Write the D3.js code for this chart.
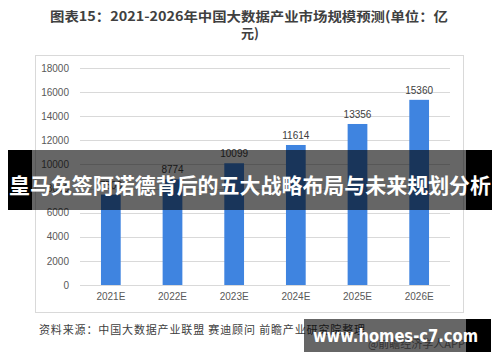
<!DOCTYPE html>
<html><head><meta charset="utf-8">
<script src="https://cdn.jsdelivr.net/npm/d3@7/dist/d3.min.js"></script>
<style>body{margin:0;background:#fff}svg{display:block}</style>
</head><body>
<svg id="c" width="500" height="362"></svg>
<script>
const categories = ["2021E","2022E","2023E","2024E","2025E","2026E"];
const values = [7500, 8774, 10099, 11614, 13356, 15360];
const valueLabels = ["7500","8774","10099","11614","13356","15360"];
const yTicks = [0,2000,4000,6000,8000,10000,12000,14000,16000,18000];
const titleLines = ["图表15：2021-2026年中国大数据产业市场规模预测(单位：亿","元)"];
const sourceText = "资料来源：中国大数据产业联盟 赛迪顾问 前瞻产业研究院整理";
const creditText = "@前瞻经济学人APP";
const bannerText = "皇马免签阿诺德背后的五大战略布局与未来规划分析";
const siteText = "www.homes-c7.com";

const svg = d3.select("#c");
const cjk = "'Noto Sans CJK SC','Noto Sans',sans-serif";
const num = "'Liberation Sans',Arial,sans-serif";

// title
svg.append("text").attr("x",249).attr("y",21).attr("text-anchor","middle")
  .attr("font-family",cjk).attr("font-weight","bold").attr("font-size",13)
  .attr("fill","#404040").attr("textLength",398).attr("lengthAdjust","spacingAndGlyphs")
  .text(titleLines[0]);
svg.append("text").attr("x",250).attr("y",38).attr("text-anchor","middle")
  .attr("font-family",cjk).attr("font-weight","bold").attr("font-size",13)
  .attr("fill","#404040").text(titleLines[1]);

// frame
svg.append("rect").attr("x",35.5).attr("y",55.5).attr("width",428).attr("height",257)
  .attr("fill","#fff").attr("stroke","#d9d9d9");

const x = d3.scaleBand().domain(categories).range([80,450]).paddingInner(0.68).paddingOuter(0.34);
const y = d3.scaleLinear().domain([0,18000]).range([285,68]);

// grid
svg.append("g").selectAll("line").data(yTicks).join("line")
  .attr("x1",80).attr("x2",450).attr("y1",d=>Math.round(y(d))+0.5).attr("y2",d=>Math.round(y(d))+0.5)
  .attr("stroke","#d9d9d9");

// y axis labels
const yAxis = d3.axisLeft(y).tickValues(yTicks).tickSize(0).tickPadding(0).tickFormat(d3.format("d"));
const ga = svg.append("g").attr("transform","translate(69,0)").call(yAxis);
ga.select(".domain").remove();
ga.selectAll("text").attr("font-family",num).attr("font-size",10).attr("fill","#595959");

// x axis labels
const xAxis = d3.axisBottom(x).tickSize(0).tickPadding(0);
const gx = svg.append("g").attr("transform","translate(0,293)").call(xAxis);
gx.select(".domain").remove();
gx.selectAll("text").attr("font-family",num).attr("font-size",10).attr("fill","#595959").attr("dy","0.71em");

// bars
svg.append("g").selectAll("rect").data(values).join("rect")
  .attr("x",(d,i)=>x(categories[i])).attr("width",x.bandwidth())
  .attr("y",d=>y(d)).attr("height",d=>y(0)-y(d)).attr("fill","#3f84e0");

svg.append("g").selectAll("text").data(values).join("text")
  .attr("x",(d,i)=>x(categories[i])+x.bandwidth()/2).attr("y",d=>y(d)-6)
  .attr("text-anchor","middle").attr("font-family",num).attr("font-size",10).attr("fill","#404040")
  .text((d,i)=>valueLabels[i]);

// source
svg.append("text").attr("x",39).attr("y",334).attr("font-family",cjk).attr("font-size",11)
  .attr("fill","#404040").attr("textLength",326).attr("lengthAdjust","spacing").text(sourceText);
svg.append("text").attr("x",465).attr("y",348).attr("text-anchor","end").attr("font-family",cjk).attr("font-size",11)
  .attr("fill","#808080").text(creditText);

// banner overlay
svg.append("rect").attr("x",8).attr("y",150).attr("width",24).attr("height",60).attr("fill","#000");
svg.append("rect").attr("x",466).attr("y",150).attr("width",26).attr("height",60).attr("fill","#000");
svg.append("rect").attr("x",32).attr("y",150).attr("width",434).attr("height",60).attr("fill","rgba(0,0,0,0.6)");
svg.append("text").attr("x",250).attr("y",193).attr("text-anchor","middle")
  .attr("font-family",cjk).attr("font-weight","bold").attr("font-size",21).attr("fill","#fff")
  .attr("textLength",482).attr("lengthAdjust","spacingAndGlyphs").text(bannerText);

// site overlay
svg.append("rect").attr("x",304).attr("y",319).attr("width",162).attr("height",33).attr("fill","rgba(0,0,0,0.6)");
svg.append("rect").attr("x",466).attr("y",319).attr("width",25).attr("height",33).attr("fill","#000");
svg.append("text").attr("x",313).attr("y",342).attr("font-family","'DejaVu Sans',sans-serif")
  .attr("font-weight","bold").attr("font-size",18).attr("fill","#fff")
  .attr("textLength",165).attr("lengthAdjust","spacingAndGlyphs").text(siteText);
</script>
</body></html>
